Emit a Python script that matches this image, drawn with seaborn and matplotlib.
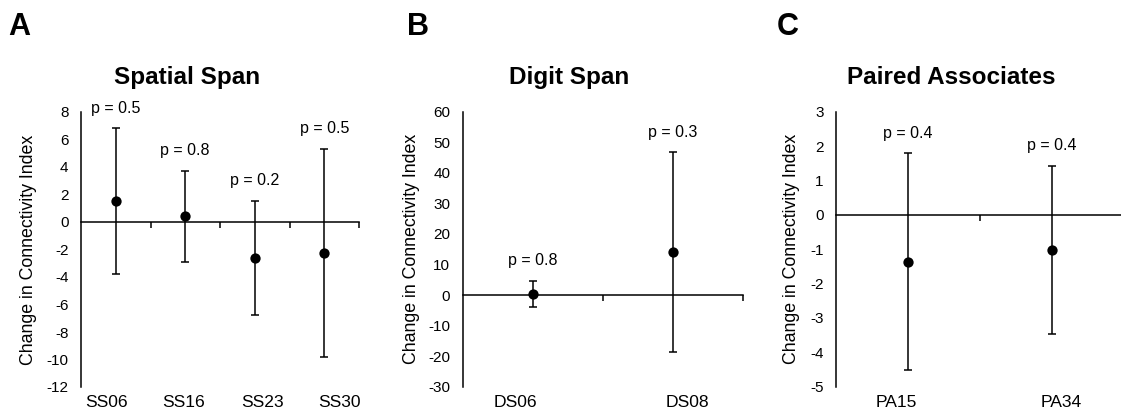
import numpy as np
import pandas as pd
import matplotlib
matplotlib.use("Agg")
import matplotlib.pyplot as plt
import matplotlib.transforms as mtransforms
import seaborn as sns

# ---- data -------------------------------------------------------------
ss_items = ["SS06", "SS16", "SS23", "SS30"]
ss_mean = [1.5, 0.4, -2.6, -2.25]
ss_err = [5.3, 3.3, 4.15, 7.55]
ss_p = ["0.5", "0.8", "0.2", "0.5"]
ss_ticks = [-12, -10, -8, -6, -4, -2, 0, 2, 4, 6, 8]

ds_items = ["DS06", "DS08"]
ds_mean = [0.3, 14.0]
ds_err = [4.3, 32.7]
ds_p = ["0.8", "0.3"]
ds_ticks = [-30, -20, -10, 0, 10, 20, 30, 40, 50, 60]

pa_items = ["PA15", "PA34"]
pa_mean = [-1.36, -1.02]
pa_err = [3.15, 2.45]
pa_p = ["0.4", "0.4"]
pa_ticks = [-5, -4, -3, -2, -1, 0, 1, 2, 3]

titles = ["Spatial Span", "Digit Span", "Paired Associates"]
letters = ["A", "B", "C"]
ylabel = "Change in Connectivity Index"

# ---- style ------------------------------------------------------------
sns.set_theme(style="white")
plt.rcParams["font.family"] = ["Liberation Sans", "DejaVu Sans"]
plt.rcParams["axes.unicode_minus"] = False

W, H = 1121, 411
fig = plt.figure(figsize=(W / 100, H / 100), dpi=100)

# axes boxes in pixels: left, top, width, height
boxes = [(81, 112, 278, 275), (462.7, 111.7, 280, 275), (836, 111.7, 288, 275)]
label_x = [[0.0935, 0.370, 0.653, 0.928], [0.189, 0.803], [0.208, 0.781]]
title_x = [0.383, 0.381, 0.399]
ylabel_x = [-0.158, -0.153, -0.126]
letter_x = [8, 407, 777]

panels = [
    (ss_items, ss_mean, ss_err, ss_p, ss_ticks),
    (ds_items, ds_mean, ds_err, ds_p, ds_ticks),
    (pa_items, pa_mean, pa_err, pa_p, pa_ticks),
]

lw = 1.1
for k, (items, mean, err, pvals, yt) in enumerate(panels):
    l, t, w, h = boxes[k]
    ax = fig.add_axes([l / W, 1 - (t + h) / H, w / W, h / H])
    df = pd.DataFrame({"item": items, "mean": mean, "err": err})
    pos = np.arange(len(items))

    ax.errorbar(pos, df["mean"], yerr=df["err"], fmt="none", ecolor="black",
                elinewidth=lw, capsize=3, capthick=lw, zorder=2)
    sns.scatterplot(data=df, x="item", y="mean", color="black", s=55,
                    edgecolor="black", linewidth=0, zorder=3, ax=ax, legend=False)

    for i, (m, e, p) in enumerate(zip(mean, err, pvals)):
        ax.annotate(f"p = {p}", xy=(i, m + e), xytext=(0, 14.5),
                    textcoords="offset points", ha="center", va="center",
                    fontsize=11.5, color="black")

    ax.set_xlim(-0.5, len(items) - 0.5)
    ax.set_ylim(yt[0], yt[-1])
    ax.set_yticks(yt)
    ax.set_yticklabels([str(v) for v in yt], fontsize=11)
    ax.tick_params(axis="y", length=0, pad=9, colors="black")

    # category boundaries as tick marks on the zero line
    ax.set_xticks(np.arange(len(items)) + 0.5)
    ax.set_xticklabels([])
    ax.tick_params(axis="x", direction="out", length=4, width=lw,
                   color="black", bottom=True)
    ax.set_xlabel("")

    for side in ["top", "right"]:
        ax.spines[side].set_visible(False)
    ax.spines["bottom"].set_position(("data", 0))
    for side in ["left", "bottom"]:
        ax.spines[side].set_color("black")
        ax.spines[side].set_linewidth(lw)

    trans = mtransforms.blended_transform_factory(ax.transAxes, ax.transAxes)
    for xf, name in zip(label_x[k], items):
        ax.text(xf, -0.073, name, transform=trans, ha="center", va="baseline",
                fontsize=12.6, color="black")

    ax.set_ylabel(ylabel, fontsize=12.8, color="black")
    ax.yaxis.set_label_coords(ylabel_x[k], 0.5)

    ax.text(title_x[k], 1.102, titles[k], transform=ax.transAxes, ha="center",
            va="baseline", fontsize=17.5, fontweight="bold", color="black")

    fig.text(letter_x[k] / W, 1 - 35 / H, letters[k], ha="left", va="baseline",
             fontsize=22, fontweight="bold", color="black")

fig.savefig("out.png", dpi=100)
